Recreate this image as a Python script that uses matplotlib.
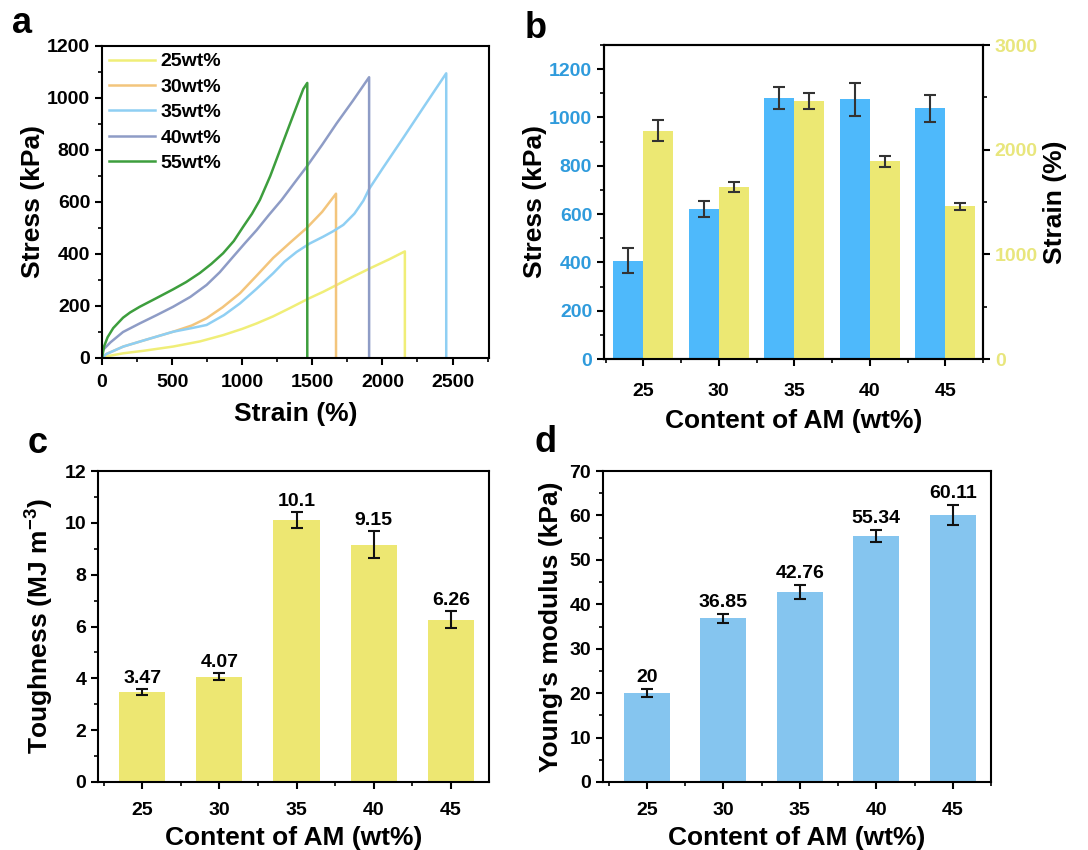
import numpy as np
import matplotlib
matplotlib.use("Agg")
import matplotlib.pyplot as plt
from matplotlib.ticker import MultipleLocator

plt.rcParams['font.family'] = ['Liberation Sans', 'DejaVu Sans']
plt.rcParams['font.weight'] = 'bold'
plt.rcParams['axes.labelweight'] = 'bold'
plt.rcParams['mathtext.fontset'] = 'custom'
plt.rcParams['mathtext.rm'] = 'Liberation Sans:bold'
plt.rcParams['mathtext.bf'] = 'Liberation Sans:bold'
plt.rcParams['axes.linewidth'] = 1.5
plt.rcParams['xtick.major.width'] = 1.5
plt.rcParams['ytick.major.width'] = 1.5
plt.rcParams['xtick.minor.width'] = 1.2
plt.rcParams['ytick.minor.width'] = 1.2
plt.rcParams['xtick.major.size'] = 5
plt.rcParams['ytick.major.size'] = 5
plt.rcParams['xtick.minor.size'] = 3
plt.rcParams['ytick.minor.size'] = 3

# ---- data ----
# panel a: stress-strain curves (strain %, stress kPa)
curve_labels = ['25wt%', '30wt%', '35wt%', '40wt%', '55wt%']
curve_colors = ['#F0EE78', '#F3C57C', '#8FCFF3', '#8E9CC6', '#3D9E3D']
strain_25 = [0, 50, 150, 300, 507, 700, 864, 1000, 1103, 1220, 1340, 1471, 1579, 1674, 1780, 1912, 2050, 2160, 2160]
stress_25 = [0, 8, 18, 28, 44, 64, 88, 112, 133, 160, 192, 228, 255, 281, 310, 345, 380, 410, 0]
strain_30 = [0, 30, 152, 300, 507, 640, 746, 860, 984, 1100, 1221, 1340, 1460, 1570, 1669, 1669]
stress_30 = [0, 15, 44, 68, 101, 125, 153, 195, 249, 315, 385, 443, 500, 562, 632, 0]
strain_35 = [0, 30, 152, 300, 507, 640, 746, 870, 984, 1100, 1221, 1300, 1388, 1480, 1579,
             1650, 1721, 1800, 1864, 1905, 2000, 2150, 2300, 2455, 2455]
stress_35 = [0, 15, 44, 68, 101, 115, 127, 165, 210, 265, 326, 370, 408, 440, 467,
             488, 512, 555, 605, 650, 728, 848, 970, 1095, 0]
strain_40 = [0, 7, 60, 150, 269, 390, 507, 630, 746, 840, 936, 1020, 1103, 1190, 1281,
             1370, 1460, 1570, 1674, 1790, 1905, 1905]
stress_40 = [0, 31, 60, 100, 133, 165, 197, 235, 281, 330, 390, 442, 492, 550, 608,
             672, 736, 820, 903, 990, 1080, 0]
strain_55 = [0, 15, 40, 80, 150, 200, 269, 380, 507, 600, 698, 780, 864, 940, 1007, 1070,
             1126, 1200, 1270, 1340, 1400, 1436, 1464, 1464]
stress_55 = [0, 45, 80, 115, 155, 175, 197, 228, 264, 292, 327, 362, 403, 450, 505, 555,
             608, 700, 800, 900, 985, 1035, 1058, 0]

# panels b-d: per AM content
am_content = [25, 30, 35, 40, 45]
stress_b = [407, 621, 1080, 1076, 1039]
stress_b_err = [52, 33, 45, 68, 56]
strain_b = [2182, 1645, 2462, 1887, 1460]
strain_b_err = [100, 47, 77, 54, 35]
toughness = [3.47, 4.07, 10.1, 9.15, 6.26]
toughness_err = [0.11, 0.13, 0.3, 0.52, 0.32]
modulus = [20, 36.85, 42.76, 55.34, 60.11]
modulus_err = [0.9, 1.05, 1.57, 1.4, 2.3]

fig = plt.figure(figsize=(10.88, 8.5), dpi=100)
W, H = 1088, 850

def box(l, t, r, b):
    return [l / W, 1 - b / H, (r - l) / W, (b - t) / H]

TICK = 14
LAB = 19

def style(ax, xpad=3.5):
    ax.tick_params(which='both', direction='out', labelsize=TICK)
    ax.tick_params(axis='x', pad=xpad)
    for lab in ax.get_xticklabels() + ax.get_yticklabels():
        lab.set_fontweight('bold')

# ---- a ----
ax = fig.add_axes(box(102, 46, 489, 358))
xs = [strain_25, strain_30, strain_35, strain_40, strain_55]
ys = [stress_25, stress_30, stress_35, stress_40, stress_55]
for x, y, c, l in zip(xs, ys, curve_colors, curve_labels):
    ax.plot(x, y, color=c, lw=1.8, label=l, solid_joinstyle='round')
ax.set_xlim(0, 2760)
ax.set_ylim(0, 1200)
ax.xaxis.set_major_locator(MultipleLocator(500))
ax.xaxis.set_minor_locator(MultipleLocator(250))
ax.yaxis.set_major_locator(MultipleLocator(200))
ax.yaxis.set_minor_locator(MultipleLocator(100))
ax.set_xlabel('Strain (%)', fontsize=LAB, labelpad=8)
ax.set_ylabel('Stress (kPa)', fontsize=LAB)
ax.yaxis.set_label_coords(-0.147, 0.5)
leg = ax.legend(loc='upper left', bbox_to_anchor=(0, 1), frameon=False,
                fontsize=14, handlelength=2.4, handletextpad=0.25,
                labelspacing=0.4, borderaxespad=0.2, borderpad=0.15)
for t in leg.get_texts():
    t.set_fontweight('bold')
style(ax, xpad=6.5)

# ---- b ----
ax = fig.add_axes(box(604, 45, 983, 359))
blue_b = '#4EB9FB'
yel_b = '#ECE873'
x = np.array(am_content)
ax.bar(x - 1, stress_b, width=2, color=blue_b, yerr=stress_b_err,
       error_kw=dict(ecolor='#333333', elinewidth=1.5, capsize=4, capthick=1.5))
ax.set_ylim(0, 1300)
ax.set_xlim(22.4, 47.5)
ax.set_xticks(am_content)
ax.xaxis.set_minor_locator(MultipleLocator(2.5))
ax.yaxis.set_major_locator(MultipleLocator(200))
ax.yaxis.set_minor_locator(MultipleLocator(100))
ax.set_xlabel('Content of AM (wt%)', fontsize=LAB, labelpad=6)
ax.set_ylabel('Stress (kPa)', fontsize=LAB)
ax.yaxis.set_label_coords(-0.150, 0.5)
style(ax, xpad=12.5)
ax.tick_params(axis='y', labelcolor='#2F9BDC')
ax2 = ax.twinx()
ax2.bar(x + 1, strain_b, width=2, color=yel_b, yerr=strain_b_err,
        error_kw=dict(ecolor='#333333', elinewidth=1.5, capsize=4, capthick=1.5))
ax2.set_ylim(0, 3000)
ax2.yaxis.set_major_locator(MultipleLocator(1000))
ax2.yaxis.set_minor_locator(MultipleLocator(500))
ax2.set_ylabel('Strain (%)', fontsize=LAB)
ax2.yaxis.set_label_coords(1.158, 0.5)
style(ax2)
ax2.tick_params(axis='y', labelcolor='#E8E67C')

# ---- c ----
ax = fig.add_axes(box(98, 471, 489, 782))
ax.bar(am_content, toughness, width=3, color='#EDE772', yerr=toughness_err,
       error_kw=dict(ecolor='#111111', elinewidth=1.5, capsize=4, capthick=1.5))
for xi, v, e in zip(am_content, toughness, toughness_err):
    ax.text(xi, v + e + 0.1, f'{v:g}', ha='center', va='bottom', fontsize=14, fontweight='bold')
ax.set_ylim(0, 12)
ax.set_xlim(22.14, 47.47)
ax.set_xticks(am_content)
ax.xaxis.set_minor_locator(MultipleLocator(2.5))
ax.yaxis.set_major_locator(MultipleLocator(2))
ax.yaxis.set_minor_locator(MultipleLocator(1))
ax.set_xlabel('Content of AM (wt%)', fontsize=LAB, labelpad=5)
ax.set_ylabel('Toughness (MJ m$^{-3}$)', fontsize=LAB)
ax.yaxis.set_label_coords(-0.110, 0.5)
style(ax, xpad=9.5)

# ---- d ----
ax = fig.add_axes(box(603, 471, 991, 782))
ax.bar(am_content, modulus, width=3, color='#85C5EF', yerr=modulus_err,
       error_kw=dict(ecolor='#111111', elinewidth=1.5, capsize=4, capthick=1.5))
for xi, v, e in zip(am_content, modulus, modulus_err):
    ax.text(xi, v + e + 0.6, f'{v:g}', ha='center', va='bottom', fontsize=14, fontweight='bold')
ax.set_ylim(0, 70)
ax.set_xlim(22.14, 47.5)
ax.set_xticks(am_content)
ax.xaxis.set_minor_locator(MultipleLocator(2.5))
ax.yaxis.set_major_locator(MultipleLocator(10))
ax.yaxis.set_minor_locator(MultipleLocator(5))
ax.set_xlabel('Content of AM (wt%)', fontsize=LAB, labelpad=5)
ax.set_ylabel("Young's modulus (kPa)", fontsize=LAB)
ax.yaxis.set_label_coords(-0.103, 0.5)
style(ax, xpad=9.5)

# panel letters
for lt, px, py in [('a', 12, 33), ('b', 525, 38), ('c', 28, 453), ('d', 535, 452)]:
    fig.text(px / W, 1 - py / H, lt, fontsize=26, fontweight='bold', va='baseline')

fig.savefig('out.png', dpi=100)
